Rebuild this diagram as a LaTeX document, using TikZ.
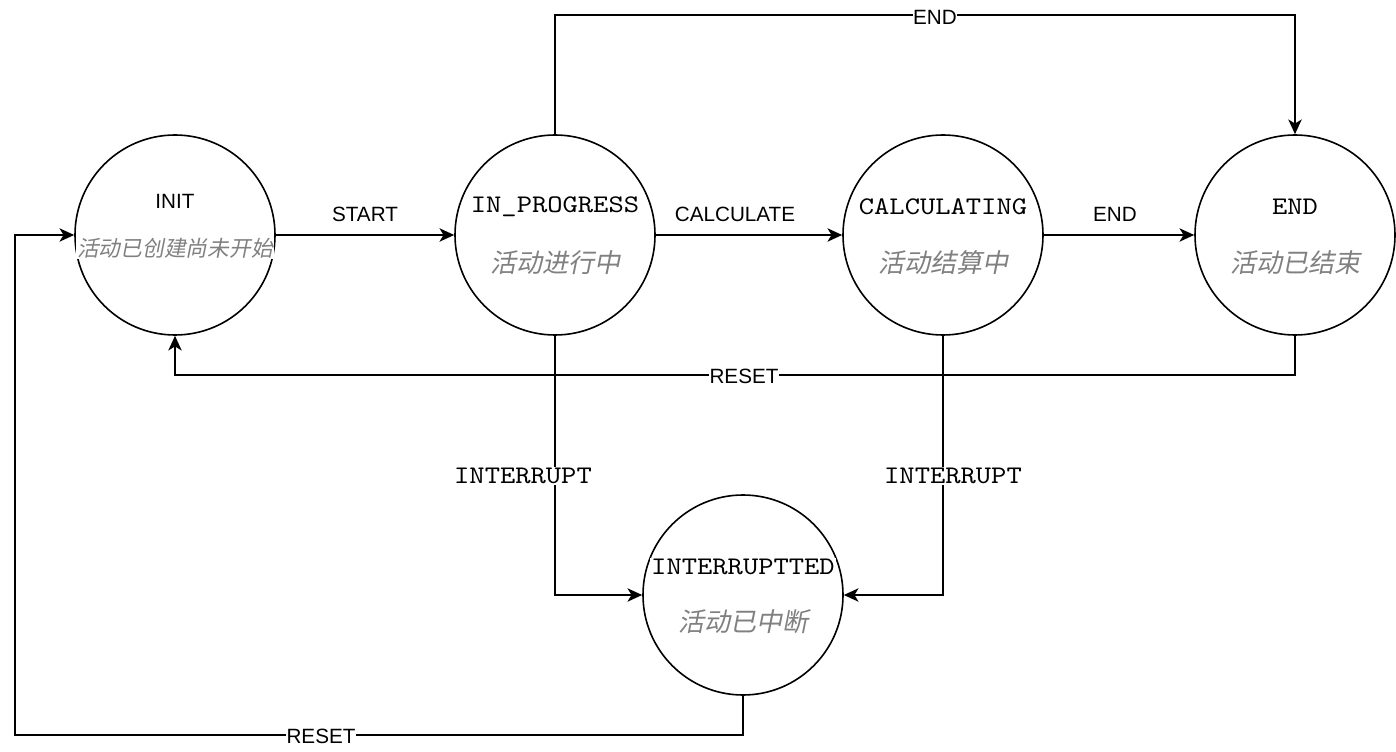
\documentclass[tikz,border=0pt]{standalone}
\usepackage{fontspec}
\setmainfont{Liberation Sans}
\newfontfamily\monofont{lmmono10-regular}[Extension=.otf, FakeStretch=1.15]
\newfontfamily\cjkfont[FakeSlant=0.2]{Noto Sans CJK SC}
\usetikzlibrary{arrows.meta}
\definecolor{subgray}{RGB}{128,128,128}
\tikzset{
  state/.style={circle, draw, line width=1.2pt, minimum size=150pt, inner sep=0pt},
  title/.style={font=\monofont\fontsize{19}{22}\selectfont, fill=white, inner sep=1pt},
  sanstitle/.style={font=\fontsize{15.5}{18}\selectfont, inner sep=1pt},
  sub/.style={font=\cjkfont\fontsize{19.5}{22}\selectfont, text=subgray, fill=white, inner sep=1pt},
  subsmall/.style={sub, font=\cjkfont\fontsize{16.3}{20}\selectfont},
  conn/.style={line width=1.4pt, -{Stealth[length=11pt,width=10pt,inset=3pt]}},
  lab/.style={font=\fontsize{15.5}{18}\selectfont, inner sep=1pt},
  labbg/.style={lab, fill=white, inner sep=0.5pt},
  monolab/.style={font=\monofont\fontsize{19}{22}\selectfont, fill=white, inner sep=1pt},
}
\begin{document}
\begin{tikzpicture}[x=0.75pt,y=-0.75pt]
\useasboundingbox (0,0) rectangle (1396,752);
% states
\node[state] (init)  at (175,235) {};
\node[state] (prog)  at (555,235) {};
\node[state] (calc)  at (943,235) {};
\node[state] (endst) at (1295,235) {};
\node[state] (intr)  at (743,595) {};
% state texts
\node[sanstitle] (tInit) at (175,201) {INIT};
\node[subsmall] (sInit) at (175,248) {活动已创建尚未开始};
\node[title] (tProg) at (555,207) {IN\_PROGRESS};
\node[sub] (sProg) at (555,263) {活动进行中};
\node[title] (tCalc) at (943,207) {CALCULATING};
\node[sub] (sCalc) at (943,263) {活动结算中};
\node[title] (tEnd) at (1295,207) {END};
\node[sub] (sEnd) at (1295,263) {活动已结束};
\node[title] (tIntr) at (743,567) {INTERRUPTTED};
\node[sub] (sIntr) at (743,622) {活动已中断};
% straight transitions
\draw[conn] (init.east) -- (prog.west);
\node[lab] (lStart) at (365,214) {START};
\draw[conn] (prog.east) -- (calc.west);
\node[lab] (lCalc) at (735,214) {CALCULATE};
\draw[conn] (calc.east) -- (endst.west);
\node[lab] (lEnd) at (1115,214) {END};
% top END
\coordinate (topL) at (555,15);
\draw[conn] (prog.north) -- (topL) -| (endst.north);
\node[labbg] (lEndTop) at (935,17) {END};
% middle RESET
\coordinate (midR) at (1295,375);
\draw[conn] (endst.south) -- (midR) -| (init.south);
\node[labbg] (lReset) at (744,376) {RESET};
% interrupts
\draw[conn] (prog.south) |- (intr.west);
\node[monolab] (lInt1) at (523,476) {INTERRUPT};
\draw[conn] (calc.south) |- (intr.east);
\node[monolab] (lInt2) at (953,476) {INTERRUPT};
% bottom RESET
\coordinate (botL) at (15,735);
\draw[conn] (intr.south) |- (botL) |- (init.west);
\node[labbg] (lReset2) at (321,736) {RESET};
\end{tikzpicture}
\end{document}
